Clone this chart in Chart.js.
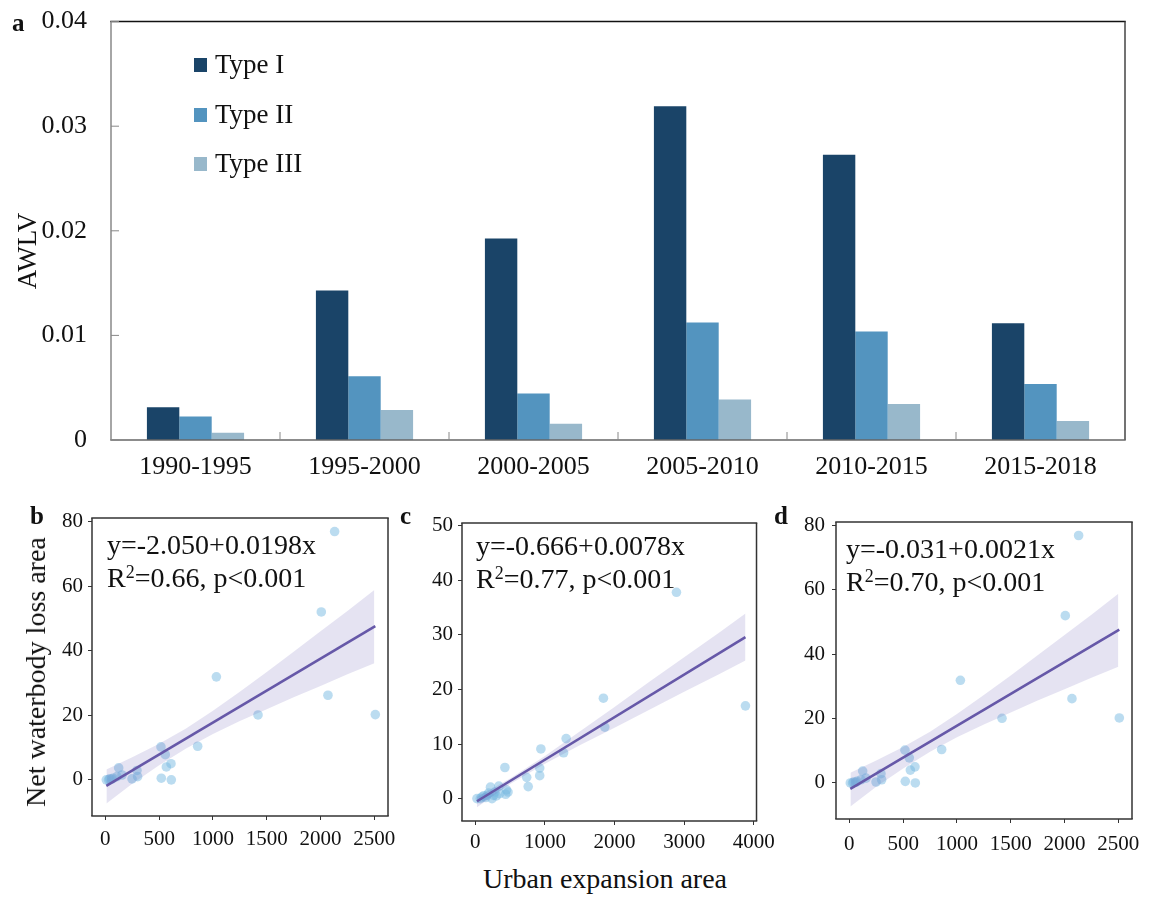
<!DOCTYPE html>
<html>
<head>
<meta charset="utf-8">
<script src="https://cdn.jsdelivr.net/npm/chart.js@4.4.1/dist/chart.umd.min.js"></script>
<style>
  html, body { margin: 0; padding: 0; background: #fff; }
  body { width: 1157px; height: 898px; position: relative; overflow: hidden;
         font-family: "Liberation Serif", "Times New Roman", serif; color: #111; }
  canvas { position: absolute; }
  .eq { position: absolute; white-space: nowrap; font-size: 28px; line-height: 32.5px; }
  .tag { position: absolute; font-weight: bold; font-size: 25px; line-height: 28px; }
  .rot { position: absolute; white-space: nowrap; transform: translate(-50%, -50%) rotate(-90deg); }
  .leg { position: absolute; white-space: nowrap; font-size: 27px; line-height: 30px; padding-left: 21px; }
  .leg i { position: absolute; left: 0; top: 9px; width: 13px; height: 14px; }
  sup { font-size: 0.64em; vertical-align: 0.5em; line-height: 0; }
</style>
</head>
<body>
<canvas id="ca" width="1157" height="508" style="left:0;top:-18px"></canvas>
<canvas id="cb" width="420" height="370" style="left:0;top:490px"></canvas>
<canvas id="cc" width="360" height="370" style="left:420px;top:490px"></canvas>
<canvas id="cd" width="367" height="370" style="left:790px;top:490px"></canvas>

<div class="tag" style="left:12px;top:9px">a</div>
<div class="tag" style="left:30px;top:502px">b</div>
<div class="tag" style="left:400px;top:502px">c</div>
<div class="tag" style="left:774px;top:502px">d</div>

<div class="rot" style="left:27px;top:251px;font-size:27px;line-height:27px">AWLV</div>
<div class="rot" style="left:36px;top:672px;font-size:28px;line-height:28px">Net waterbody loss area</div>
<div class="eq" style="left:0;width:1210px;text-align:center;top:863px">Urban expansion area</div>

<div class="eq" style="left:107px;top:529px">y=-2.050+0.0198x<br>R<sup>2</sup>=0.66, p&lt;0.001</div>
<div class="eq" style="left:476px;top:530px">y=-0.666+0.0078x<br>R<sup>2</sup>=0.77, p&lt;0.001</div>
<div class="eq" style="left:846px;top:533px">y=-0.031+0.0021x<br>R<sup>2</sup>=0.70, p&lt;0.001</div>

<div id="legendA"></div>

<script>
// ---- panel a: AWLV by period and type ----
const periods = ['1990-1995', '1995-2000', '2000-2005', '2005-2010', '2010-2015', '2015-2018'];
const typeI   = [0.00314, 0.01429, 0.01927, 0.0319, 0.02727, 0.01117];
const typeII  = [0.00225, 0.0061, 0.00444, 0.01124, 0.01038, 0.00536];
const typeIII = [0.0007, 0.00286, 0.00156, 0.00387, 0.00343, 0.00181];
const awlvTicks = [0, 0.01, 0.02, 0.03, 0.04];

// ---- panels b and d: net waterbody loss vs urban expansion ----
const urbanBD = [2131, 2007, 1032, 2069, 1419, 2509, 858, 517, 557, 610, 567, 520, 613, 124, 248, 300, 294, 9, 30, 40, 60, 71, 108, 155];
const lossBD  = [76.9, 52.0, 31.9, 26.2, 20.1, 20.2, 10.4, 10.2, 7.8, 5.0, 4.0, 0.5, 0.0, 3.7, 0.3, 1.0, 2.9, 0.0, 0.0, 0.3, 0.2, 0.5, 1.0, 1.5];
const bandXBD  = [10, 250, 500, 750, 1000, 1250, 1500, 1750, 2000, 2250, 2500];
const bandUpBD = [3.2, 7.0, 11.2, 15.9, 21.4, 27.3, 33.4, 39.7, 46.0, 52.3, 58.8];
const bandLoBD = [-7.3, -1.2, 4.5, 9.7, 14.2, 18.2, 21.9, 25.6, 29.1, 32.7, 36.1];
const xTicksBD = [0, 500, 1000, 1500, 2000, 2500];
const yTicksBD = [0, 20, 40, 60, 80];

// ---- panel c ----
const urbanC = [2889, 3880, 1840, 1860, 1305, 1268, 942, 925, 925, 738, 760, 425, 470, 436, 448, 338, 218, 240, 302, 168, 96, 24, 263, 72, 120, 191, 150, 280, 350];
const lossC  = [37.8, 17.0, 18.4, 13.1, 11.0, 8.4, 9.1, 5.6, 4.2, 3.9, 2.2, 5.7, 1.2, 0.8, 1.6, 2.3, 2.1, 0.0, 0.5, 0.6, 0.3, 0.0, 0.6, 0.0, 0.5, 1.0, 0.2, 1.2, 0.9];
const bandXC  = [24, 500, 1000, 1500, 2000, 2500, 3000, 3500, 3880];
const bandUpC = [0.3, 3.7, 7.8, 12.3, 16.8, 21.4, 25.9, 30.4, 33.9];
const bandLoC = [-1.6, 2.7, 6.4, 9.8, 13.0, 16.3, 19.6, 22.8, 25.3];
const xTicksC = [0, 1000, 2000, 3000, 4000];
const yTicksC = [0, 10, 20, 30, 40, 50];

// fitted lines: [intercept, slope] and the x span they cover
const fitB = [-2.050, 0.0198];
const fitC = [-0.666, 0.0078];
const spanBD = [9, 2509];
const spanC  = [24, 3880];

const SERIF = '"Liberation Serif", "Times New Roman", serif';
const colors = ['#1a4468', '#5394bf', '#98b8cb'];

// frame around the plot area plus optional inward tick marks
const framePlugin = {
  id: 'frame',
  afterDraw(chart, args, o) {
    const { ctx, chartArea: { left, top, right, bottom } } = chart;
    const seg = (c, w, x1, y1, x2, y2) => {
      ctx.strokeStyle = c; ctx.lineWidth = w;
      ctx.beginPath(); ctx.moveTo(x1, y1); ctx.lineTo(x2, y2); ctx.stroke();
    };
    ctx.save();
    const w = o.lineWidth || 1.5;
    seg(o.top, w, left - w / 2, top, right + w / 2, top);
    seg(o.right, w, right, top, right, bottom);
    seg(o.bottom, w, left - w / 2, bottom, right + w / 2, bottom);
    seg(o.left, w, left, top, left, bottom);
    if (o.innerTicks) {
      const xs = chart.scales.x, ys = chart.scales.y, len = o.innerTicks;
      ys.ticks.forEach((t, i) => {
        const y = ys.getPixelForTick(i);
        seg(o.tickColor, 1, left, y, left + len, y);
      });
      for (let i = 0; i < xs.ticks.length - 1; i++) {
        const x = (xs.getPixelForTick(i) + xs.getPixelForTick(i + 1)) / 2;
        seg(o.tickColor, 1, x, bottom, x, bottom - len);
      }
    }
    ctx.restore();
  }
};

// ---- bar chart ----
const chartA = new Chart(document.getElementById('ca'), {
  type: 'bar',
  data: {
    labels: periods,
    datasets: [
      { label: 'Type I', data: typeI, backgroundColor: colors[0] },
      { label: 'Type II', data: typeII, backgroundColor: colors[1] },
      { label: 'Type III', data: typeIII, backgroundColor: colors[2] }
    ]
  },
  options: {
    responsive: false, animation: false, events: [],
    datasets: { bar: { categoryPercentage: 0.575, barPercentage: 1.0, borderWidth: 0 } },
    layout: { padding: { left: 0, top: 2, right: 32, bottom: 10 } },
    plugins: {
      legend: { display: false }, tooltip: { enabled: false },
      frame: { top: '#111', right: '#444', bottom: '#666', left: '#888', lineWidth: 1.5, innerTicks: 8, tickColor: '#888' }
    },
    scales: {
      x: {
        grid: { display: false, drawTicks: false }, border: { display: false },
        ticks: { color: '#111', font: { family: SERIF, size: 26 }, padding: 12, maxRotation: 0, autoSkip: false },
        afterFit: s => { s.height = 40; }
      },
      y: {
        min: 0, max: 0.04,
        grid: { display: false, drawTicks: false }, border: { display: false },
        afterBuildTicks: s => { s.ticks = awlvTicks.map(v => ({ value: v })); },
        ticks: { color: '#111', font: { family: SERIF, size: 26 }, padding: 24, callback: v => String(v) },
        afterFit: s => { s.width = 111; }
      }
    }
  },
  plugins: [framePlugin]
});

// legend rows built from the bar datasets
const legendBox = document.getElementById('legendA');
chartA.data.datasets.forEach((ds, i) => {
  const row = document.createElement('div');
  row.className = 'leg';
  row.style.left = '194px';
  row.style.top = (49.2 + i * 49.3) + 'px';
  const sw = document.createElement('i');
  sw.style.background = ds.backgroundColor;
  row.appendChild(sw);
  row.appendChild(document.createTextNode(ds.label));
  legendBox.appendChild(row);
});

// ---- scatter panels ----
const toPts = (xs, ys) => xs.map((x, i) => ({ x, y: ys[i] }));
const fitLine = (coef, span) => span.map(x => ({ x, y: coef[0] + coef[1] * x }));

function scatterPanel(id, cfg) {
  return new Chart(document.getElementById(id), {
    type: 'scatter',
    data: {
      datasets: [
        { data: cfg.line, showLine: true, borderColor: '#6658a8', borderWidth: 2.6, pointRadius: 0, order: 0 },
        { data: cfg.up, showLine: true, borderWidth: 0, borderColor: 'rgba(0,0,0,0)', pointRadius: 0,
          fill: '+1', backgroundColor: 'rgba(110,100,185,0.18)', order: 1 },
        { data: cfg.lo, showLine: true, borderWidth: 0, borderColor: 'rgba(0,0,0,0)', pointRadius: 0, order: 1 },
        { data: cfg.pts, pointRadius: 4.8, backgroundColor: 'rgba(120,185,225,0.5)', borderWidth: 0, order: 2 }
      ]
    },
    options: {
      responsive: false, animation: false, events: [],
      layout: { padding: cfg.pad },
      plugins: {
        legend: { display: false }, tooltip: { enabled: false },
        frame: { top: '#333', right: '#333', bottom: '#333', left: '#333', lineWidth: 1.5 }
      },
      scales: {
        x: {
          type: 'linear', min: cfg.xr[0], max: cfg.xr[1],
          grid: { display: true, drawOnChartArea: false, drawTicks: true, tickLength: 4, color: '#333' },
          border: { display: false },
          afterBuildTicks: s => { s.ticks = cfg.xt.map(v => ({ value: v })); },
          ticks: { color: '#111', font: { family: SERIF, size: 21 }, padding: cfg.xPad, maxRotation: 0, autoSkip: false,
                   callback: v => String(v) },
          afterFit: s => { s.height = cfg.xH; }
        },
        y: {
          type: 'linear', min: cfg.yr[0], max: cfg.yr[1],
          grid: { display: true, drawOnChartArea: false, drawTicks: true, tickLength: 4, color: '#333' },
          border: { display: false },
          afterBuildTicks: s => { s.ticks = cfg.yt.map(v => ({ value: v })); },
          ticks: { color: '#111', font: { family: SERIF, size: 21 }, padding: cfg.yPad, callback: v => String(v) },
          afterFit: s => { s.width = cfg.yW; }
        }
      }
    },
    plugins: [framePlugin]
  });
}

const lineB = fitLine(fitB, spanBD);
// panel d re-plots the panel b observations, fitted line and band included
const lineD = lineB;

scatterPanel('cb', {
  pts: toPts(urbanBD, lossBD), up: toPts(bandXBD, bandUpBD), lo: toPts(bandXBD, bandLoBD), line: lineB,
  xr: [-124, 2627], yr: [-11.2, 81.1], xt: xTicksBD, yt: yTicksBD,
  pad: { left: 0, top: 28, right: 32, bottom: 4 }, yW: 92, xH: 40, xPad: 7, yPad: 5
});
scatterPanel('cc', {
  pts: toPts(urbanC, lossC), up: toPts(bandXC, bandUpC), lo: toPts(bandXC, bandLoC), line: fitLine(fitC, spanC),
  xr: [-191, 4039], yr: [-4.1, 50.5], xt: xTicksC, yt: yTicksC,
  pad: { left: 0, top: 33, right: 22, bottom: 4 }, yW: 42, xH: 35, xPad: 5, yPad: 5
});
scatterPanel('cd', {
  pts: toPts(urbanBD, lossBD), up: toPts(bandXBD, bandUpBD), lo: toPts(bandXBD, bandLoBD), line: lineD,
  xr: [-124, 2627], yr: [-11.2, 81.1], xt: xTicksBD, yt: yTicksBD,
  pad: { left: 0, top: 32, right: 25, bottom: 4 }, yW: 46, xH: 37, xPad: 9, yPad: 7
});
</script>
</body>
</html>
